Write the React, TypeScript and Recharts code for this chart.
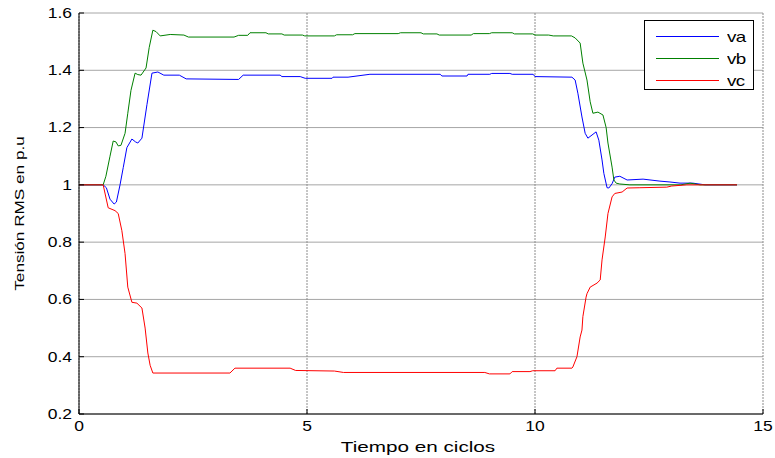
import { LineChart, Line, XAxis, YAxis, CartesianGrid, Legend, Label } from 'recharts'

// [tiempo en ciclos, tensión p.u]
const va: [number, number][] = [
  [0, 1.0], [0.53, 1.0], [0.6, 0.99], [0.68, 0.95], [0.77, 0.933], [0.82, 0.94], [0.9, 1.0],
  [0.97, 1.06], [1.05, 1.13], [1.16, 1.16], [1.24, 1.15], [1.29, 1.146], [1.38, 1.163],
  [1.49, 1.28], [1.6, 1.39], [1.73, 1.394], [1.86, 1.383], [2.2, 1.383], [2.35, 1.37],
  [3.5, 1.368], [3.6, 1.383], [4.41, 1.383], [4.45, 1.378], [4.85, 1.378], [4.96, 1.372],
  [5.55, 1.372], [5.57, 1.376], [5.9, 1.376], [6.38, 1.386], [7.92, 1.386], [7.96, 1.38],
  [8.51, 1.38], [8.53, 1.386], [9.01, 1.386], [9.05, 1.389], [9.45, 1.389], [9.5, 1.386],
  [9.96, 1.386], [10.0, 1.378], [10.81, 1.376], [10.88, 1.366], [10.94, 1.32], [11.03, 1.237],
  [11.1, 1.18], [11.16, 1.163], [11.25, 1.174], [11.34, 1.185], [11.4, 1.156], [11.47, 1.087],
  [11.51, 1.04], [11.58, 0.99], [11.62, 0.989], [11.69, 1.004], [11.75, 1.027], [11.86, 1.03],
  [12.02, 1.017], [12.37, 1.02], [12.74, 1.013], [12.96, 1.01], [13.18, 1.006], [13.46, 1.006],
  [13.73, 1.0], [14.43, 1.0],
]

const vb: [number, number][] = [
  [0, 1.0], [0.53, 1.0], [0.59, 1.03], [0.68, 1.1], [0.75, 1.153], [0.81, 1.15], [0.86, 1.136],
  [0.92, 1.138], [1.01, 1.18], [1.07, 1.25], [1.14, 1.33], [1.23, 1.39], [1.29, 1.385],
  [1.36, 1.383], [1.47, 1.408], [1.54, 1.48], [1.62, 1.54], [1.69, 1.535], [1.78, 1.52],
  [2.0, 1.525], [2.3, 1.523], [2.4, 1.516], [3.4, 1.516], [3.5, 1.522], [3.7, 1.522],
  [3.75, 1.531], [4.1, 1.531], [4.15, 1.527], [4.45, 1.527], [4.5, 1.523], [4.9, 1.523],
  [4.95, 1.52], [5.6, 1.52], [5.65, 1.524], [6.0, 1.524], [6.05, 1.528], [7.0, 1.528],
  [7.05, 1.531], [7.5, 1.531], [7.55, 1.527], [7.85, 1.527], [7.9, 1.523], [8.6, 1.523],
  [8.65, 1.528], [9.0, 1.528], [9.05, 1.531], [9.5, 1.531], [9.55, 1.527], [9.95, 1.527],
  [10.0, 1.523], [10.3, 1.523], [10.4, 1.52], [10.8, 1.52], [10.88, 1.513], [10.99, 1.495],
  [11.05, 1.425], [11.14, 1.366], [11.21, 1.29], [11.27, 1.25], [11.38, 1.254], [11.49, 1.244],
  [11.56, 1.2], [11.6, 1.146], [11.69, 1.062], [11.73, 1.017], [11.78, 1.006], [11.86, 1.003],
  [12.08, 1.0], [13.2, 1.0], [13.4, 1.006], [13.62, 1.0], [14.43, 1.0],
]

const vc: [number, number][] = [
  [0, 1.0], [0.53, 1.0], [0.64, 0.92], [0.79, 0.91], [0.86, 0.9], [0.94, 0.84], [1.01, 0.76],
  [1.07, 0.643], [1.16, 0.59], [1.27, 0.587], [1.38, 0.57], [1.45, 0.5], [1.51, 0.413],
  [1.56, 0.37], [1.62, 0.343], [3.31, 0.343], [3.42, 0.36], [4.63, 0.36], [4.75, 0.352],
  [5.6, 0.35], [5.8, 0.345], [8.9, 0.345], [9.0, 0.34], [9.45, 0.34], [9.5, 0.348],
  [9.89, 0.348], [9.95, 0.351], [10.44, 0.351], [10.48, 0.36], [10.81, 0.36], [10.83, 0.364],
  [10.92, 0.4], [10.99, 0.469], [11.03, 0.493], [11.05, 0.54], [11.12, 0.608], [11.14, 0.62],
  [11.21, 0.643], [11.36, 0.657], [11.43, 0.668], [11.47, 0.738], [11.54, 0.818], [11.6, 0.9],
  [11.69, 0.958], [11.75, 0.97], [11.91, 0.975], [12.02, 0.989], [12.3, 0.99], [12.89, 0.992],
  [13.0, 0.996], [13.33, 1.0], [14.43, 1.0],
]

const xTicks = [0, 5, 10, 15]
const yTicks = [0.2, 0.4, 0.6, 0.8, 1, 1.2, 1.4, 1.6]

const rows = (pts: [number, number][]) => pts.map(([t, v]) => ({ t, v }))

const FONT = '"Liberation Sans", Arial, sans-serif'
const fmt = (v: number) => String(Number(v.toFixed(1)))

const YTick = ({ x, y, payload }: any) => (
  <text
    transform={`translate(${x},${y}) scale(1.25,1)`}
    textAnchor="end"
    dominantBaseline="central"
    fontFamily={FONT}
    fontSize={14}
    fill="#000"
  >
    {fmt(payload.value)}
  </text>
)

const XTick = ({ x, y, payload }: any) => (
  <text
    transform={`translate(${x},${y}) scale(1.25,1)`}
    textAnchor="middle"
    dominantBaseline="hanging"
    fontFamily={FONT}
    fontSize={14}
    fill="#000"
  >
    {payload.value}
  </text>
)

const LegendBox = ({ payload }: any) => (
  <div
    style={{
      border: '1.5px solid #000',
      background: '#fff',
      width: 110,
      height: 70,
      boxSizing: 'border-box',
      padding: '4px 0 0 11px',
    }}
  >
    {payload.map((p: any) => (
      <div key={p.value} style={{ display: 'flex', alignItems: 'center', height: 22 }}>
        <div style={{ width: 63, height: 0, borderTop: `1px solid ${p.color}` }} />
        <span
          style={{
            marginLeft: 8,
            fontFamily: FONT,
            fontSize: 15,
            display: 'inline-block',
            transform: 'scaleX(1.25)',
            transformOrigin: 'left center',
            letterSpacing: -0.5,
          }}
        >
          {p.value}
        </span>
      </div>
    ))}
  </div>
)

export default function App() {
  return (
    <div style={{ position: 'absolute', left: 0, top: 0, background: '#fff' }}>
      <LineChart width={775} height={458} margin={{ top: 13, right: 12, bottom: 0, left: 0 }}>
        <CartesianGrid xAxisId="b" yAxisId="l" horizontal vertical={false} stroke="#a6a6a6" />
        <CartesianGrid xAxisId="b" yAxisId="l" horizontal={false} vertical stroke="#8c8c8c" strokeDasharray="2 1" />
        <XAxis
          xAxisId="b"
          dataKey="t"
          type="number"
          domain={[0, 15]}
          ticks={xTicks}
          height={44}
          stroke="#000"
          tickSize={-5}
          tickMargin={12}
          tick={<XTick />}
          allowDataOverflow
        >
          <Label
            content={() => (
              <text
                transform="translate(418,447) scale(1.38,1)"
                textAnchor="middle"
                dominantBaseline="central"
                fontFamily={FONT}
                fontSize={15}
                fill="#000"
              >
                Tiempo en ciclos
              </text>
            )}
          />
        </XAxis>
        <XAxis
          xAxisId="t"
          orientation="top"
          type="number"
          domain={[0, 15]}
          ticks={xTicks}
          height={0}
          stroke="#000"
          tickSize={-5}
          tickFormatter={() => ''}
          allowDataOverflow
        />
        <YAxis
          yAxisId="l"
          type="number"
          domain={[0.2, 1.6]}
          ticks={yTicks}
          width={79}
          stroke="#000"
          tickSize={-5}
          tickMargin={12}
          tick={<YTick />}
          allowDataOverflow
        >
          <Label
            content={({ viewBox }: any) => {
              const cy = viewBox.y + viewBox.height / 2
              return (
                <text
                  transform={`translate(19,${cy}) rotate(-90) scale(1.32,1)`}
                  textAnchor="middle"
                  dominantBaseline="central"
                  fontFamily={FONT}
                  fontSize={13}
                  fill="#000"
                >
                  Tensión RMS en p.u
                </text>
              )
            }}
          />
        </YAxis>
        <YAxis
          yAxisId="r"
          orientation="right"
          type="number"
          domain={[0.2, 1.6]}
          ticks={yTicks}
          width={0}
          stroke="#000"
          tickSize={-5}
          tickFormatter={() => ''}
          allowDataOverflow
        />
        <Legend
          layout="vertical"
          verticalAlign="middle"
          align="center"
          wrapperStyle={{ top: 20, left: 644, width: 110 }}
          content={<LegendBox />}
        />
        <Line xAxisId="b" yAxisId="l" data={rows(va)} dataKey="v" name="va" stroke="#0000ff" strokeWidth={1} dot={false} type="linear" isAnimationActive={false} />
        <Line xAxisId="b" yAxisId="l" data={rows(vb)} dataKey="v" name="vb" stroke="#008000" strokeWidth={1} dot={false} type="linear" isAnimationActive={false} />
        <Line xAxisId="b" yAxisId="l" data={rows(vc)} dataKey="v" name="vc" stroke="#ff0000" strokeWidth={1} dot={false} type="linear" isAnimationActive={false} />
      </LineChart>
    </div>
  )
}
